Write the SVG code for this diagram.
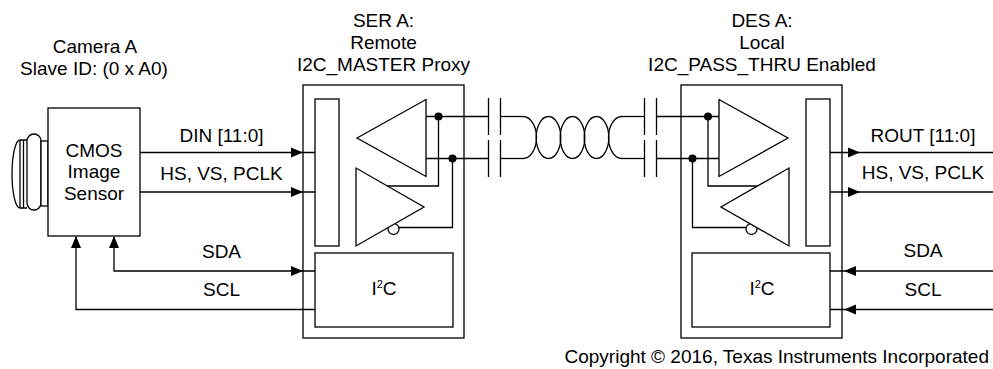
<svg xmlns="http://www.w3.org/2000/svg" xmlns:xlink="http://www.w3.org/1999/xlink" width="993" height="369" viewBox="0 0 993 369">
<style>
  .ln { fill: none; stroke: #000; stroke-width: 1.3; }
  .bx { fill: #fff; stroke: #000; stroke-width: 1.3; }
  .tri { fill: #fff; stroke: #000; stroke-width: 1.3; stroke-linejoin: miter; }
  .dot { fill: #000; }
  .ah { fill: #000; }
  text { font-family: "Liberation Sans", Arial, sans-serif; font-size: 19px; fill: #000; text-anchor: middle; }
  .sup { font-size: 11px; }
</style>
<defs>
  <path id="ah" class="ah" d="M0,0 L-12,-5 L-12,5 Z"/>
</defs>
<rect width="993" height="369" fill="#fff"/>

<g id="camera">
  <path class="ln" d="M27,140 L20,140 A8,34 0 0 0 20,208 L27,208"/>
  <line class="ln" x1="20" y1="140" x2="20" y2="208"/>
  <line class="ln" x1="23.5" y1="140" x2="23.5" y2="208"/>
  <rect class="bx" x="27" y="134" width="14" height="76" rx="7" ry="7"/>
  <rect class="bx" x="41" y="141" width="7" height="65"/>
  <rect class="bx" x="48" y="108" width="92" height="128"/>
  <text x="94" y="156.5">CMOS</text>
  <text x="94" y="178">Image</text>
  <text x="94" y="199.5">Sensor</text>
  <text x="95" y="52.5">Camera A</text>
  <text x="94" y="75">Slave ID: (0 x A0)</text>
</g>

<g id="ser">
  <rect class="bx" x="303" y="85" width="161" height="253"/>
  <rect class="bx" x="315" y="99" width="24" height="147"/>
  <rect class="bx" x="315" y="253" width="138" height="74"/>
  <text x="384" y="295">I<tspan class="sup" dy="-7">2</tspan><tspan dy="7">C</tspan></text>
  <circle class="bx" cx="393.5" cy="229" r="5.5"/>
  <polygon class="tri" points="357,138 426,99.5 426,176.5"/>
  <polygon class="tri" points="356,168 356,246 424,207"/>
  <polyline class="ln" points="438.5,116.5 438.5,186 387.4,186"/>
  <polyline class="ln" points="452.5,158.5 452.5,227.5 398.8,227.5"/>
  <circle class="dot" cx="438.5" cy="116.5" r="4"/>
  <circle class="dot" cx="452.5" cy="158.5" r="4"/>
  <text x="383.5" y="26.5">SER A:</text>
  <text x="383.5" y="49">Remote</text>
  <text x="383.5" y="71">I2C_MASTER Proxy</text>
</g>

<g id="des">
  <rect class="bx" x="681" y="85" width="161" height="253"/>
  <rect class="bx" x="806" y="99" width="24" height="147"/>
  <rect class="bx" x="692" y="253" width="138" height="74"/>
  <text x="762" y="295">I<tspan class="sup" dy="-7">2</tspan><tspan dy="7">C</tspan></text>
  <circle class="bx" cx="751.5" cy="229" r="5.5"/>
  <polygon class="tri" points="788,138 719,99.5 719,176.5"/>
  <polygon class="tri" points="789,168 789,246 721,207"/>
  <polyline class="ln" points="708,116.5 708,186 757.6,186"/>
  <polyline class="ln" points="692.5,158.5 692.5,227.5 746.2,227.5"/>
  <circle class="dot" cx="708" cy="116.5" r="4"/>
  <circle class="dot" cx="692.5" cy="158.5" r="4"/>
  <text x="762" y="26.5">DES A:</text>
  <text x="762" y="49">Local</text>
  <text x="762" y="71">I2C_PASS_THRU Enabled</text>
</g>

<g id="link">
  <line class="ln" x1="426" y1="116.5" x2="488.5" y2="116.5"/>
  <line class="ln" x1="426" y1="158.5" x2="488.5" y2="158.5"/>
  <line class="ln" x1="488.5" y1="98" x2="488.5" y2="135"/>
  <line class="ln" x1="500.5" y1="98" x2="500.5" y2="135"/>
  <line class="ln" x1="488.5" y1="140" x2="488.5" y2="177"/>
  <line class="ln" x1="500.5" y1="140" x2="500.5" y2="177"/>
  <line class="ln" x1="500.5" y1="116.5" x2="523" y2="116.5"/>
  <line class="ln" x1="500.5" y1="158.5" x2="523" y2="158.5"/>
  <path class="ln" d="M523,116.5 A13.5,21 0 0 1 523,158.5"/>
  <ellipse class="ln" cx="548.5" cy="137.5" rx="12.3" ry="21"/>
  <ellipse class="ln" cx="572.5" cy="137.5" rx="12.3" ry="21"/>
  <ellipse class="ln" cx="596.5" cy="137.5" rx="12.3" ry="21"/>
  <path class="ln" d="M622,116.5 A13.5,21 0 0 0 622,158.5"/>
  <line class="ln" x1="622" y1="116.5" x2="644.5" y2="116.5"/>
  <line class="ln" x1="622" y1="158.5" x2="644.5" y2="158.5"/>
  <line class="ln" x1="644.5" y1="98" x2="644.5" y2="135"/>
  <line class="ln" x1="656.5" y1="98" x2="656.5" y2="135"/>
  <line class="ln" x1="644.5" y1="140" x2="644.5" y2="177"/>
  <line class="ln" x1="656.5" y1="140" x2="656.5" y2="177"/>
  <line class="ln" x1="656.5" y1="116.5" x2="719" y2="116.5"/>
  <line class="ln" x1="656.5" y1="158.5" x2="719" y2="158.5"/>
</g>

<g id="connectors">
  <line class="ln" x1="140" y1="152.5" x2="315" y2="152.5"/>
  <line class="ln" x1="140" y1="192" x2="315" y2="192"/>
  <polyline class="ln" points="114,237 114,271 315,271"/>
  <polyline class="ln" points="76,237 76,309.5 315,309.5"/>
  <line class="ln" x1="830" y1="152.5" x2="993" y2="152.5"/>
  <line class="ln" x1="830" y1="192" x2="993" y2="192"/>
  <line class="ln" x1="830" y1="271" x2="993" y2="271"/>
  <line class="ln" x1="830" y1="309.5" x2="993" y2="309.5"/>
  <use xlink:href="#ah" transform="translate(303,152.5)"/>
  <use xlink:href="#ah" transform="translate(303,192)"/>
  <use xlink:href="#ah" transform="translate(303,271)"/>
  <use xlink:href="#ah" transform="translate(114,236) rotate(-90)"/>
  <use xlink:href="#ah" transform="translate(76,236) rotate(-90)"/>
  <use xlink:href="#ah" transform="translate(860,152.5)"/>
  <use xlink:href="#ah" transform="translate(860,192)"/>
  <use xlink:href="#ah" transform="translate(844,271) rotate(180)"/>
  <use xlink:href="#ah" transform="translate(844,309.5) rotate(180)"/>
</g>

<g id="labels">
  <text x="221.5" y="141.5">DIN [11:0]</text>
  <text x="221.5" y="179.5">HS, VS, PCLK</text>
  <text x="221.5" y="257.5">SDA</text>
  <text x="221.5" y="296">SCL</text>
  <text x="923" y="141.5">ROUT [11:0]</text>
  <text x="923" y="178.5">HS, VS, PCLK</text>
  <text x="923" y="257">SDA</text>
  <text x="923" y="295.5">SCL</text>
  <text x="989" y="363" style="text-anchor:end">Copyright © 2016, Texas Instruments Incorporated</text>
</g>
</svg>
